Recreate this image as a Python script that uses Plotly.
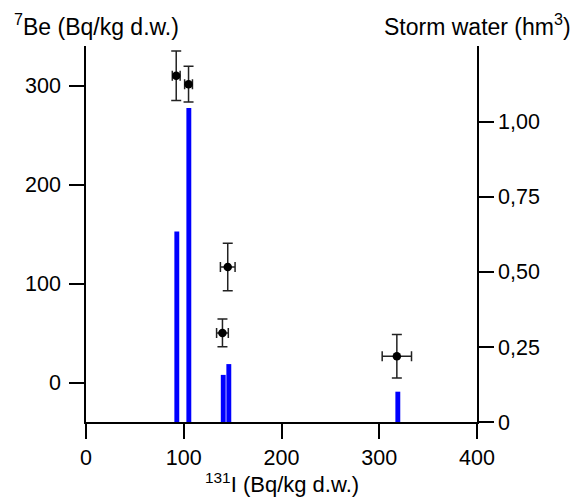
import plotly.graph_objects as go

# 7Be vs 131I data points (left axis)
iodine = [92.3, 104.9, 145.0, 139.6, 318.0]
iodine_err = [4, 4, 7.5, 6, 15]
beryllium = [310, 301.5, 117, 50.5, 27]
beryllium_err = [25, 18, 24, 14, 22]

# Storm water bars (right axis)
bar_x = [92.9, 105.2, 140.4, 146.1, 319.0]
storm_water = [0.635, 1.046, 0.157, 0.193, 0.101]

right_tickvals = [0, 0.25, 0.5, 0.75, 1.0]
right_ticktext = ["0", "0,25", "0,50", "0,75", "1,00"]

FONT = "Liberation Sans, Arial, sans-serif"
FS = 21.5
TFS = 23

fig = go.Figure()

fig.add_trace(go.Bar(
    x=bar_x, y=storm_water, width=5, yaxis="y2",
    marker=dict(color="#0000FF", line=dict(width=0)),
    showlegend=False,
))

fig.add_trace(go.Scatter(
    x=iodine, y=beryllium, mode="markers",
    marker=dict(color="black", size=8.5),
    error_y=dict(type="data", array=beryllium_err, color="#222222", thickness=1.5, width=5),
    error_x=dict(type="data", array=iodine_err, color="#222222", thickness=1.5, width=5),
    showlegend=False,
))

fig.update_layout(
    width=575, height=499,
    margin=dict(l=86, r=98, t=46, b=77, autoexpand=False),
    paper_bgcolor="white", plot_bgcolor="white",
    font=dict(family=FONT, size=FS, color="black"),
    xaxis=dict(
        range=[0, 400], tickvals=[0, 100, 200, 300, 400],
        showline=True, linecolor="black", linewidth=1.5,
        ticks="outside", ticklen=15, tickwidth=1.5, tickcolor="black",
        showgrid=False, zeroline=False, automargin=False,
    ),
    yaxis=dict(
        range=[-39.4, 340], tickvals=[0, 100, 200, 300],
        showline=True, linecolor="black", linewidth=1.5,
        ticks="outside", ticklen=15, tickwidth=1.5, tickcolor="black",
        ticklabelstandoff=4,
        showgrid=False, zeroline=False, automargin=False,
    ),
    yaxis2=dict(
        overlaying="y", side="right",
        range=[0, 1.253], tickvals=right_tickvals, ticktext=right_ticktext,
        showline=True, linecolor="black", linewidth=1.5,
        ticks="outside", ticklen=15, tickwidth=1.5, tickcolor="black",
        showgrid=False, zeroline=False, automargin=False,
    ),
    annotations=[
        dict(text="<sup>7</sup>Be (Bq/kg d.w.)", xref="paper", yref="paper",
             x=-0.188, y=1.0, xanchor="left", yanchor="bottom", yshift=4,
             showarrow=False, font=dict(family=FONT, size=TFS)),
        dict(text="Storm water (hm<sup>3</sup>)", xref="paper", yref="paper",
             x=1.245, y=1.0, xanchor="right", yanchor="bottom", yshift=4,
             showarrow=False, font=dict(family=FONT, size=TFS)),
        dict(text="<sup>131</sup>I (Bq/kg d.w.)", xref="paper", yref="paper",
             x=0.5, y=0.0, xanchor="center", yanchor="top", yshift=-45,
             showarrow=False, font=dict(family=FONT, size=22)),
    ],
)

fig.write_html("out.html", config={"displayModeBar": False},
               post_script="document.body.style.margin='0';document.body.style.overflow='hidden';")
